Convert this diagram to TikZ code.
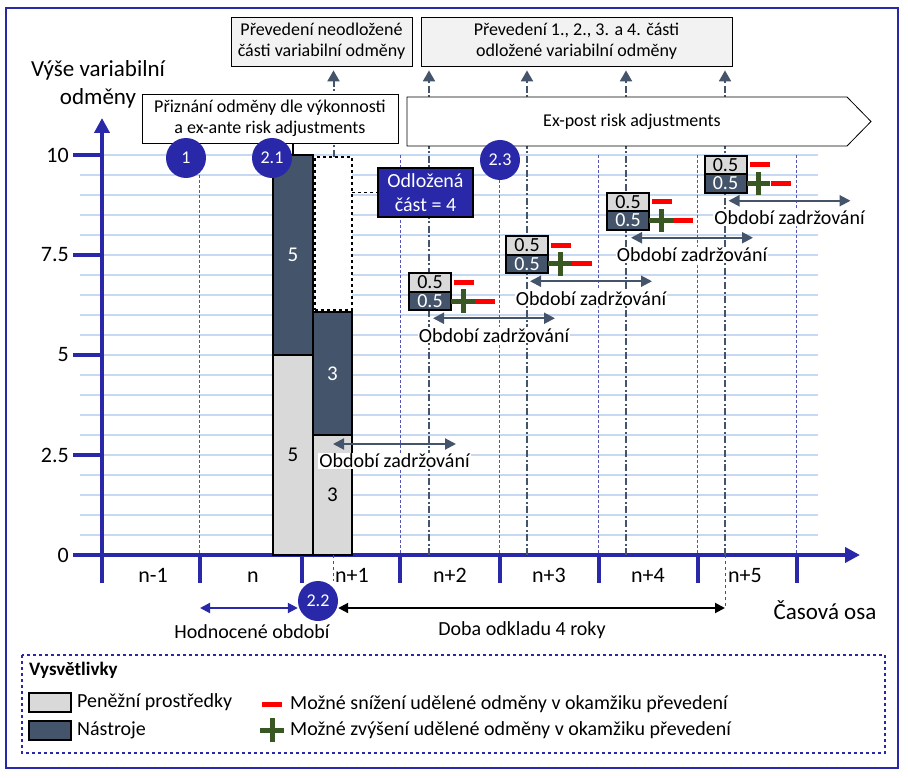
\documentclass[tikz,border=0pt]{standalone}
\usepackage{fontspec}
\setmainfont{Carlito}
\usepackage{tikz}
\usetikzlibrary{positioning, shapes.geometric, shapes.misc, arrows, arrows.meta}

\definecolor{axisblue}{RGB}{40,40,168}
\definecolor{slate}{RGB}{68,84,106}
\definecolor{gridblue}{RGB}{198,217,240}
\definecolor{cashgray}{RGB}{217,217,217}
\definecolor{notegray}{RGB}{242,242,242}
\definecolor{plusgreen}{RGB}{56,87,35}

\tikzstyle{axisline} = [axisblue, line width=4pt]
\tikzstyle{gridline} = [gridblue, line width=1.2pt]
\tikzstyle{period} = [axisblue!80, line width=0.9pt, dash pattern=on 3pt off 2pt]
\tikzstyle{payout} = [slate, line width=2pt, dash pattern=on 7pt off 2.5pt on 2pt off 2.5pt, -{Triangle[length=11pt,width=12pt]}]
\tikzstyle{hold} = [slate, line width=2pt, {Triangle[length=11pt,width=11pt]}-{Triangle[length=11pt,width=11pt]}]
\tikzstyle{stage} = [circle, fill=axisblue, text=white, minimum size=40pt, inner sep=0pt, font=\fontsize{18}{22}\selectfont]
\tikzstyle{cash} = [draw=black, line width=2pt, fill=cashgray, inner sep=0pt, outer sep=0pt, font=\fontsize{21}{25}\selectfont]
\tikzstyle{instr} = [cash, fill=slate, text=white]
\tikzstyle{part} = [cash, minimum width=42pt, minimum height=18.5pt, font=\fontsize{20}{20}\selectfont]
\tikzstyle{note} = [draw=black, line width=0.8pt, fill=notegray, align=center, minimum height=49pt, font=\fontsize{18}{21}\selectfont]
\tikzstyle{lbl} = [text=black, font=\fontsize{20}{24}\selectfont, inner sep=1pt]
\tikzstyle{minussign} = [fill=red, minimum width=20pt, minimum height=5pt, inner sep=0pt]
\tikzstyle{plussign} = [draw=plusgreen, cross out, line width=5pt, minimum size=11.5pt, inner sep=0pt, rotate=45]

\begin{document}
\begin{tikzpicture}[x=1pt, y=-1pt]
  \useasboundingbox (0,0) rectangle (908,778);
  \draw[axisblue, line width=2.5pt] (6,8) rectangle (898,768);

  % Grid and year separators
  \foreach \y in {155,175,...,535}
    \draw[gridline] (80,\y) -- (818,\y);
  \foreach \x in {199,400,499,598,697,796}
    \draw[period] (\x,155) -- (\x,555);

  % Axes
  \draw[axisline, -{Triangle[length=15pt,width=15pt]}] (102,583) -- (102,118);
  \draw[axisline, -{Triangle[length=15pt,width=15pt]}] (73,555) -- (860,555);
  \foreach \x in {200,302,400,500,599,698,797}
    \draw[axisline] (\x,555) -- (\x,583);
  \foreach \v/\y [count=\i] in {10/155,7.5/255,5/355,2.5/455,0/555} {
    \draw[axisline] (73,\y) -- (102,\y);
    \node[lbl, font=\fontsize{22}{26}\selectfont, anchor=east] (yt\i) at (70,\y) {\v};
  }
  \foreach \t/\x [count=\i] in {n-1/153,n/253,n+1/352,n+2/450,n+3/549,n+4/648,n+5/745}
    \node[lbl, font=\fontsize{22}{26}\selectfont, anchor=base] (xt\i) at (\x,582) {\t};
  \node[lbl, font=\fontsize{23}{28}\selectfont, align=center] (ylab) at (98,84) {Výše variabilní\\odměny};
  \node[lbl, font=\fontsize{23}{28}\selectfont] (xlab) at (825,610) {Časová osa};

  % Awarded remuneration in year n
  \node[cash, minimum width=40pt, minimum height=200pt] (c1) at (293,455) {5};
  \node[instr, minimum width=40pt, minimum height=200pt] (i1) at (293,255) {5};
  \node[cash, minimum width=39pt, minimum height=120pt] (c2) at (332.5,495) {3};
  \node[instr, minimum width=39pt, minimum height=123pt] (i2) at (332.5,373.5) {3};
  \node[draw=black, dashed, line width=2pt, fill=white, minimum width=37pt, minimum height=153pt, outer sep=0pt] (def) at (333.5,233.5) {};

  % Payouts
  \node[note, minimum width=181pt] (prev1) at (321.5,41.5) {Převedení neodložené\\části variabilní odměny};
  \node[note, minimum width=311pt] (prev2) at (576.5,41.5) {Převedení 1., 2., 3. a 4. části\\odložené variabilní odměny};
  \draw[payout, shorten >=4pt] (def.north) -- (def.north |- prev1.south);
  \foreach \x [count=\i] in {429,527,626,725} {
    \coordinate (pay\i) at (\x,555);
    \draw[payout, shorten >=4pt] (pay\i) -- (pay\i |- prev2.south);
  }

  % Risk adjustments
  \node[note, fill=white, minimum width=256pt] (award) at (270,118.5) {Přiznání odměny dle výkonnosti\\a ex-ante risk adjustments};
  \draw[line width=2pt] (i1.north) -- (i1.north |- award.south);
  \draw[fill=white, line width=0.8pt] (407,97) -- (847,97) -- (871,121.5) -- (847,146) -- (407,146) -- cycle;
  \node[lbl, font=\fontsize{18}{21}\selectfont] (expost) at (632,121.5) {Ex-post risk adjustments};

  \node[stage] (s1) at (186,158) {1};
  \node[stage] (s21) at (272,158) {2.1};
  \node[stage] (s23) at (500,160) {2.3};

  \node[draw=black, line width=2pt, fill=axisblue, text=white, align=center, minimum width=95pt, minimum height=49pt, font=\fontsize{20}{24}\selectfont] (odl) at (425.5,192.5) {Odložená\\část = 4};
  \draw[dashed, line width=1.5pt] (def.east |- odl.west) -- (odl.west);

  % Retention periods
  \draw[hold] ([shift={(0.5pt,-9pt)}]c2.north) -- ([shift={(123.5pt,-9pt)}]c2.north)
    node[lbl, midway, below=8pt, fill=white] (z0) {Období zadržování};
  \foreach \x/\y/\i in {430/282.5/1, 527/245.5/2, 628/202/3, 725.5/165/4} {
    \node[part] (h\i) at (\x,\y) {0.5};
    \node[part, fill=slate, text=white, below=0pt of h\i] (k\i) {0.5};
    \node[minussign, right=3pt of h\i] (mh\i) {};
    \node[plussign, right=12pt of k\i.east, anchor=center] (pk\i) {};
    \node[minussign, right=34pt of k\i.east, anchor=center] (mk\i) {};
    \draw[hold] ([shift={(3pt,-8pt)}]k\i.south) -- ([shift={(125pt,-8pt)}]k\i.south)
      node[lbl, midway, below=8pt, fill=white] (z\i) {Období zadržování};
  }

  % Evaluation and deferral
  \node[stage] (s22) at (318,601) {2.2};
  \coordinate (eval) at (200,608);
  \coordinate (delay) at (725,608);
  \draw[slate, dashed, line width=1pt] (def.north |- c2.south) -- (def.north |- s22.north);
  \draw[slate, dashed, line width=1pt] (pay4) -- (delay);
  \draw[axisblue, line width=2pt, <->, >={Triangle[length=10pt,width=10pt]}] (eval) -- (eval -| s22.west);
  \draw[black, line width=2pt, <->, >={Triangle[length=10pt,width=10pt]}] (delay -| s22.east) -- (delay);
  \node[lbl] (evallbl) at (252,632) {Hodnocené období};
  \node[lbl] (delaylbl) at (522,630) {Doba odkladu 4 roky};

  % Legend
  \draw[axisblue, dashed, line width=1.5pt] (22,655) rectangle (885,753);
  \node[lbl, font=\fontsize{19}{23}\selectfont\bfseries, anchor=west] (vys) at (28,670) {Vysvětlivky};
  \node[cash, minimum width=42pt, minimum height=19pt, anchor=west] (lc) at (29,702.5) {};
  \node[instr, minimum width=42pt, minimum height=19pt, anchor=west] (li) at (29,730) {};
  \node[lbl, right=5pt of lc] (lct) {Peněžní prostředky};
  \node[lbl, right=5pt of li] (lit) {Nástroje};
  \node[minussign] (lm) at (272,704) {};
  \node[plussign] (lp) at (272,730) {};
  \node[lbl, anchor=west] (lmt) at (289,704) {Možné snížení udělené odměny v okamžiku převedení};
  \node[lbl, anchor=west] (lpt) at (289,730) {Možné zvýšení udělené odměny v okamžiku převedení};
\end{tikzpicture}
\end{document}
